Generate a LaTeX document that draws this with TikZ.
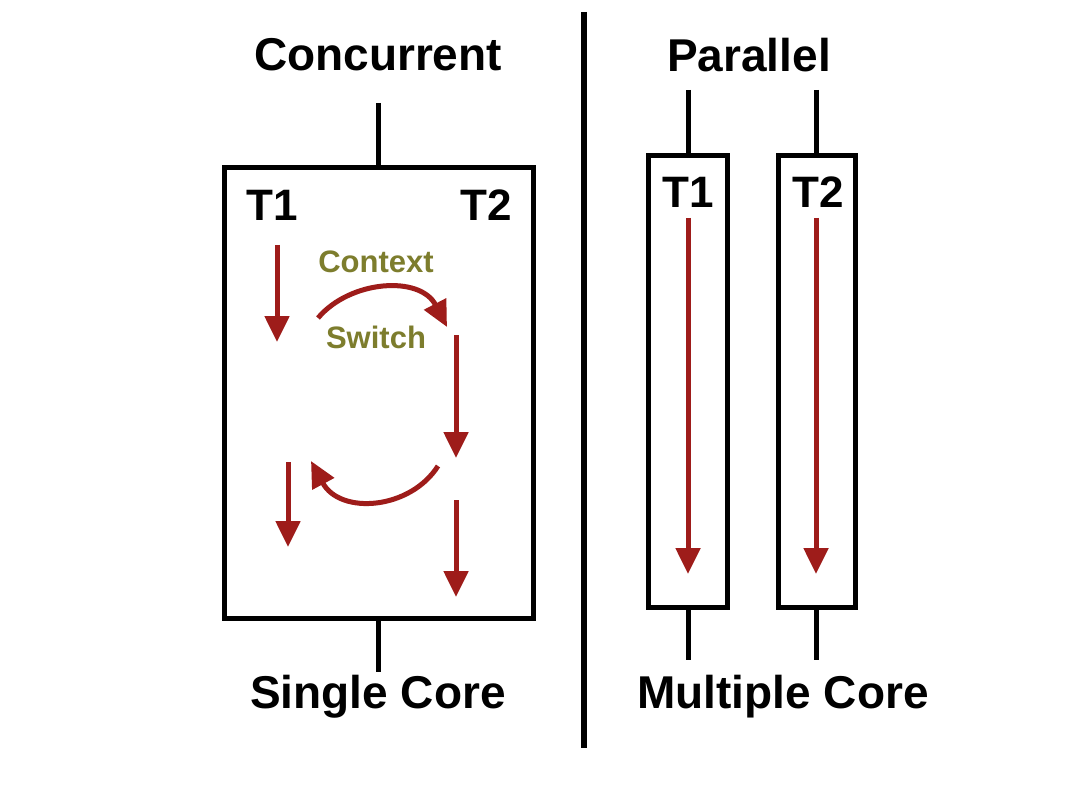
\documentclass[tikz,border=0pt]{standalone}
\usepackage{fontspec}
\setmainfont{Liberation Sans}
\usetikzlibrary{arrows.meta}
\definecolor{thr}{RGB}{158,28,26}
\definecolor{olive2}{RGB}{125,125,45}
\tikzset{
  box/.style={draw=black, line width=5pt, fill=white},
  stem/.style={draw=black, line width=5pt},
  flow/.style={draw=thr, line width=5pt, -{Triangle[length=26pt,width=24pt]}},
  title/.style={font=\fontsize{46}{50}\selectfont\bfseries, inner sep=0pt},
  tlab/.style={font=\fontsize{44}{48}\selectfont\bfseries, inner sep=0pt},
  cs/.style={font=\fontsize{31}{34}\selectfont\bfseries, text=olive2, inner sep=0pt}
}
\begin{document}
\begin{tikzpicture}[x=1pt,y=-1pt]
\useasboundingbox[fill=white] (0,0) rectangle (1092,802);
% divider
\coordinate (dtop) at (584,12);
\coordinate (dbot) at (584,748);
\draw[line width=6pt] (dtop) -- (dbot);
% titles
\node[title] (tconc) at (378,55) {Concurrent};
\node[title] (tpar) at (749,55) {Parallel};
\node[title] (tsc) at (378,697) {Single Core};
\node[title] (tmc) at (783,697) {Multiple Core};
% left box
\coordinate (lst) at (378,103);
\coordinate (lsb) at (378,672);
\draw[stem] (lst) -- (lsb);
\draw[box] (224,168) rectangle (533,618);
\node[tlab] (lt1) at (272,205) {T1};
\node[tlab] (lt2) at (486,205) {T2};
\node[cs] (ctx) at (376,262) {Context};
\node[cs] (sw) at (376,337) {Switch};
\coordinate (a1s) at (277,245); \coordinate (a1e) at (277,342);
\draw[flow] (a1s) -- (a1e);
\coordinate (c1s) at (318,318); \coordinate (c1e) at (447,327);
\draw[flow] (c1s) .. controls (350,280) and (420,275) .. (c1e);
\coordinate (a2s) at (456,335); \coordinate (a2e) at (456,458);
\draw[flow] (a2s) -- (a2e);
\coordinate (c2s) at (438,466); \coordinate (c2e) at (311,461);
\draw[flow] (c2s) .. controls (410,510) and (340,515) .. (c2e);
\coordinate (a3s) at (288,462); \coordinate (a3e) at (288,547);
\draw[flow] (a3s) -- (a3e);
\coordinate (a4s) at (456,500); \coordinate (a4e) at (456,597);
\draw[flow] (a4s) -- (a4e);
% right boxes
\coordinate (r1t) at (688,90); \coordinate (r1b) at (688,660);
\coordinate (r2t) at (816,90); \coordinate (r2b) at (816,660);
\draw[stem] (r1t) -- (r1b);
\draw[stem] (r2t) -- (r2b);
\draw[box] (648,156) rectangle (727,607);
\draw[box] (778,156) rectangle (855,607);
\node[tlab] (rt1) at (688,192) {T1};
\node[tlab] (rt2) at (818,192) {T2};
\coordinate (p1s) at (688,218); \coordinate (p1e) at (688,574);
\coordinate (p2s) at (816,218); \coordinate (p2e) at (816,574);
\draw[flow] (p1s) -- (p1e);
\draw[flow] (p2s) -- (p2e);
\end{tikzpicture}
\end{document}
